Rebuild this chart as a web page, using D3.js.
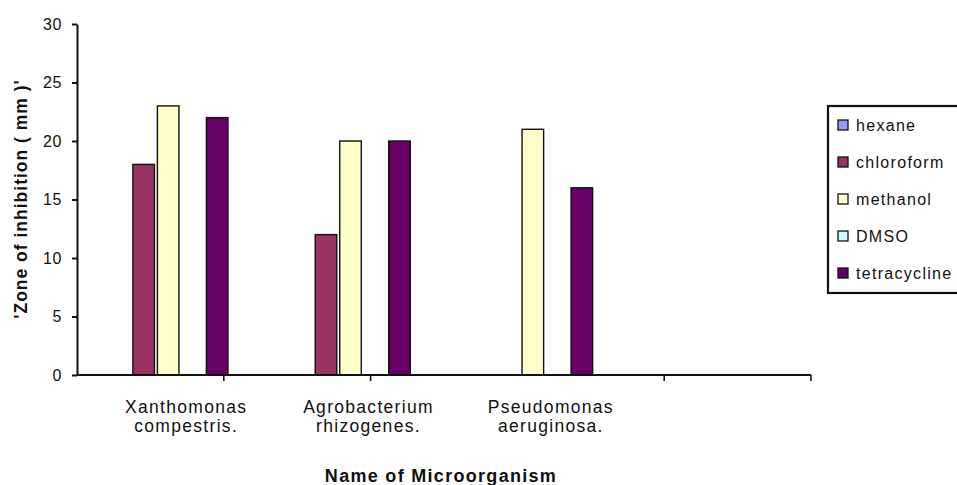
<!DOCTYPE html>
<html>
<head>
<meta charset="utf-8">
<script src="https://cdn.jsdelivr.net/npm/d3@7"></script>
<style>
  html, body { margin: 0; padding: 0; background: #fff; }
  svg { display: block; }
  text { font-family: "Liberation Sans", Arial, sans-serif; fill: #101010; }
</style>
</head>
<body>
<svg id="chart" width="957" height="485"></svg>
<script>
// ---- data ----
const categories = ["Xanthomonas compestris.", "Agrobacterium rhizogenes.", "Pseudomonas aeruginosa."];
const categoryLines = [["Xanthomonas", "compestris."], ["Agrobacterium", "rhizogenes."], ["Pseudomonas", "aeruginosa."]];
const seriesNames = ["hexane", "chloroform", "methanol", "DMSO", "tetracycline"];
const hexane = [0, 0, 0];
const chloroform = [18, 12, 0];
const methanol = [23, 20, 21];
const dmso = [0, 0, 0];
const tetracycline = [22, 20, 16];
const seriesValues = [hexane, chloroform, methanol, dmso, tetracycline];
const seriesColors = ["#9999FF", "#993366", "#FFFFCC", "#CCFFFF", "#660066"];
const yTicks = [0, 5, 10, 15, 20, 25, 30];
const yTitle = "'Zone of inhibition ( mm )'";
const xTitle = "Name of Microorganism";

// ---- layout ----
const svg = d3.select("#chart");
const plot = { left: 77, right: 811, top: 24, bottom: 375 };

const y = d3.scaleLinear().domain([0, 30]).range([plot.bottom, plot.top]);
const x0 = d3.scaleBand().domain(categories).range([plot.left, 624]).padding(0);
const groupW = 122.5;
const x1 = d3.scaleBand().domain(seriesNames).range([-groupW / 2, groupW / 2]).paddingInner(0.12).paddingOuter(0.06);
const xTickScale = d3.scaleLinear().domain([0, 5]).range([plot.left, plot.right]);
const color = d3.scaleOrdinal().domain(seriesNames).range(seriesColors);

// bars
const barData = [];
categories.forEach((c, ci) => {
  seriesNames.forEach((s, si) => {
    barData.push({ cat: c, ser: s, value: seriesValues[si][ci] });
  });
});
svg.append("g").selectAll("rect")
  .data(barData.filter(d => d.value > 0))
  .join("rect")
  .attr("x", d => x0(d.cat) + x0.bandwidth() / 2 + x1(d.ser))
  .attr("y", d => y(d.value))
  .attr("width", x1.bandwidth())
  .attr("height", d => y(0) - y(d.value))
  .attr("fill", d => color(d.ser))
  .attr("stroke", "#111")
  .attr("stroke-width", 1.4);

// y axis
const yAxis = svg.append("g").attr("transform", `translate(${plot.left},0)`)
  .call(d3.axisLeft(y).tickValues(yTicks).tickSize(5).tickSizeOuter(0).tickPadding(10));
yAxis.select(".domain").attr("stroke", "#111").attr("stroke-width", 2);
yAxis.selectAll(".tick line").attr("stroke", "#111").attr("stroke-width", 2);
yAxis.selectAll(".tick text")
  .style("font-size", "16px")
  .style("letter-spacing", "0.6px")
  .attr("fill", "#101010");

// x axis line and ticks
svg.append("line")
  .attr("x1", plot.left).attr("x2", plot.right)
  .attr("y1", plot.bottom).attr("y2", plot.bottom)
  .attr("stroke", "#111").attr("stroke-width", 2);
svg.append("g").selectAll("line")
  .data([1, 2, 4, 5])
  .join("line")
  .attr("x1", d => xTickScale(d)).attr("x2", d => xTickScale(d))
  .attr("y1", plot.bottom).attr("y2", plot.bottom + 6)
  .attr("stroke", "#111").attr("stroke-width", 1.6);

// category labels
const catG = svg.append("g");
categories.forEach((c, ci) => {
  const cx = x0(c) + x0.bandwidth() / 2 + 18;
  const t = catG.append("text")
    .attr("text-anchor", "middle")
    .attr("x", cx)
    .attr("y", 413)
    .style("font-size", "17.5px")
    .style("letter-spacing", "1.3px");
  categoryLines[ci].forEach((ln, li) => {
    t.append("tspan")
      .attr("x", cx)
      .attr("dy", li === 0 ? 0 : 19)
      .text(ln);
  });
});

// axis titles
svg.append("text")
  .attr("text-anchor", "middle")
  .attr("x", 441).attr("y", 482)
  .style("font-size", "18px").style("font-weight", "bold").style("letter-spacing", "1.3px")
  .text(xTitle);
svg.append("text")
  .attr("text-anchor", "middle")
  .attr("transform", "translate(27,199) rotate(-90)")
  .style("font-size", "17.5px").style("font-weight", "bold").style("letter-spacing", "1px")
  .text(yTitle);

// legend
const legY = d3.scaleLinear().domain([0, 4]).range([125, 273]);
const leg = svg.append("g");
leg.append("rect")
  .attr("x", 828).attr("y", 106)
  .attr("width", 160).attr("height", 187)
  .attr("fill", "#fff").attr("stroke", "#111").attr("stroke-width", 2.2);
const items = leg.selectAll("g.item").data(seriesNames).join("g").attr("class", "item")
  .attr("transform", (d, i) => `translate(0,${legY(i)})`);
items.append("rect")
  .attr("x", 838).attr("y", -5).attr("width", 10).attr("height", 10)
  .attr("fill", d => color(d)).attr("stroke", "#111").attr("stroke-width", 1.3);
items.append("text")
  .attr("x", 856).attr("y", 0).attr("dy", "0.36em")
  .style("font-size", "16px").style("letter-spacing", "1.3px")
  .text(d => d);
</script>
</body>
</html>
